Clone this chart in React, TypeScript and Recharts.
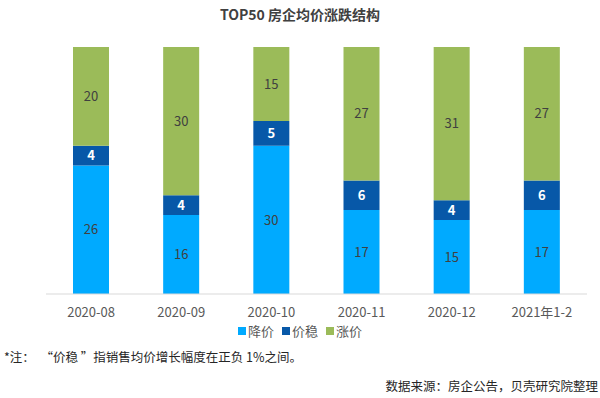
import { BarChart, Bar, XAxis, YAxis, LabelList } from 'recharts'

const FONT = "'Noto Sans CJK SC', 'Noto Sans', sans-serif"

const months = ['2020-08', '2020-09', '2020-10', '2020-11', '2020-12', '2021年1-2']
const down = [26, 16, 30, 17, 15, 17]
const stable = [4, 4, 5, 6, 4, 6]
const up = [20, 30, 15, 27, 31, 27]

const data = months.map((m, i) => ({ m, down: down[i], stable: stable[i], up: up[i] }))

const C_DOWN = '#00AAFF'
const C_STABLE = '#0758A8'
const C_UP = '#9BBB59'

const legendItems = [
  { name: '降价', color: C_DOWN },
  { name: '价稳', color: C_STABLE },
  { name: '涨价', color: C_UP },
]

export default function App() {
  return (
    <div style={{ position: 'absolute', left: 0, top: 0, width: 600, height: 398, background: '#fff', fontFamily: FONT, overflow: 'hidden' }}>
      <div style={{ position: 'absolute', top: 4, width: 600, textAlign: 'center', fontSize: 14, fontWeight: 700, color: '#404040' }}>
        TOP50 房企均价涨跌结构
      </div>
      <BarChart width={600} height={330} data={data} margin={{ top: 47, right: 13, left: 46, bottom: 6 }} barSize={36}>
        <XAxis dataKey="m" axisLine={{ stroke: '#d9d9d9' }} tickLine={false} height={30}
          tick={{ fill: '#595959', fontSize: 13, fontFamily: FONT }} dy={6} />
        <YAxis hide domain={[0, 50]} />
        <Bar dataKey="down" name="降价" stackId="a" fill={C_DOWN} isAnimationActive={false}>
          <LabelList dataKey="down" position="center" fill="#404040" fontSize={13} fontFamily={FONT} />
        </Bar>
        <Bar dataKey="stable" name="价稳" stackId="a" fill={C_STABLE} isAnimationActive={false}>
          <LabelList dataKey="stable" position="center" fill="#ffffff" fontSize={13} fontWeight={700} fontFamily={FONT} />
        </Bar>
        <Bar dataKey="up" name="涨价" stackId="a" fill={C_UP} isAnimationActive={false}>
          <LabelList dataKey="up" position="center" fill="#404040" fontSize={13} fontFamily={FONT} />
        </Bar>
      </BarChart>
      <div style={{ position: 'absolute', top: 322, left: 0, width: 600, display: 'flex', justifyContent: 'center', gap: 8, fontSize: 13, color: '#595959', lineHeight: '18px' }}>
        {legendItems.map(it => (
          <span key={it.name} style={{ display: 'flex', alignItems: 'center' }}>
            <span style={{ display: 'inline-block', width: 8, height: 8, background: it.color, marginRight: 2 }} />
            {it.name}
          </span>
        ))}
      </div>
      <div style={{ position: 'absolute', left: 4, top: 347, fontSize: 12.5, color: '#262626' }}>
        *注：&nbsp;&nbsp;“价稳 ”指销售均价增长幅度在正负 1%之间。
      </div>
      <div style={{ position: 'absolute', right: 2, top: 376, fontSize: 12.5, color: '#262626' }}>
        数据来源：房企公告，贝壳研究院整理
      </div>
    </div>
  )
}
